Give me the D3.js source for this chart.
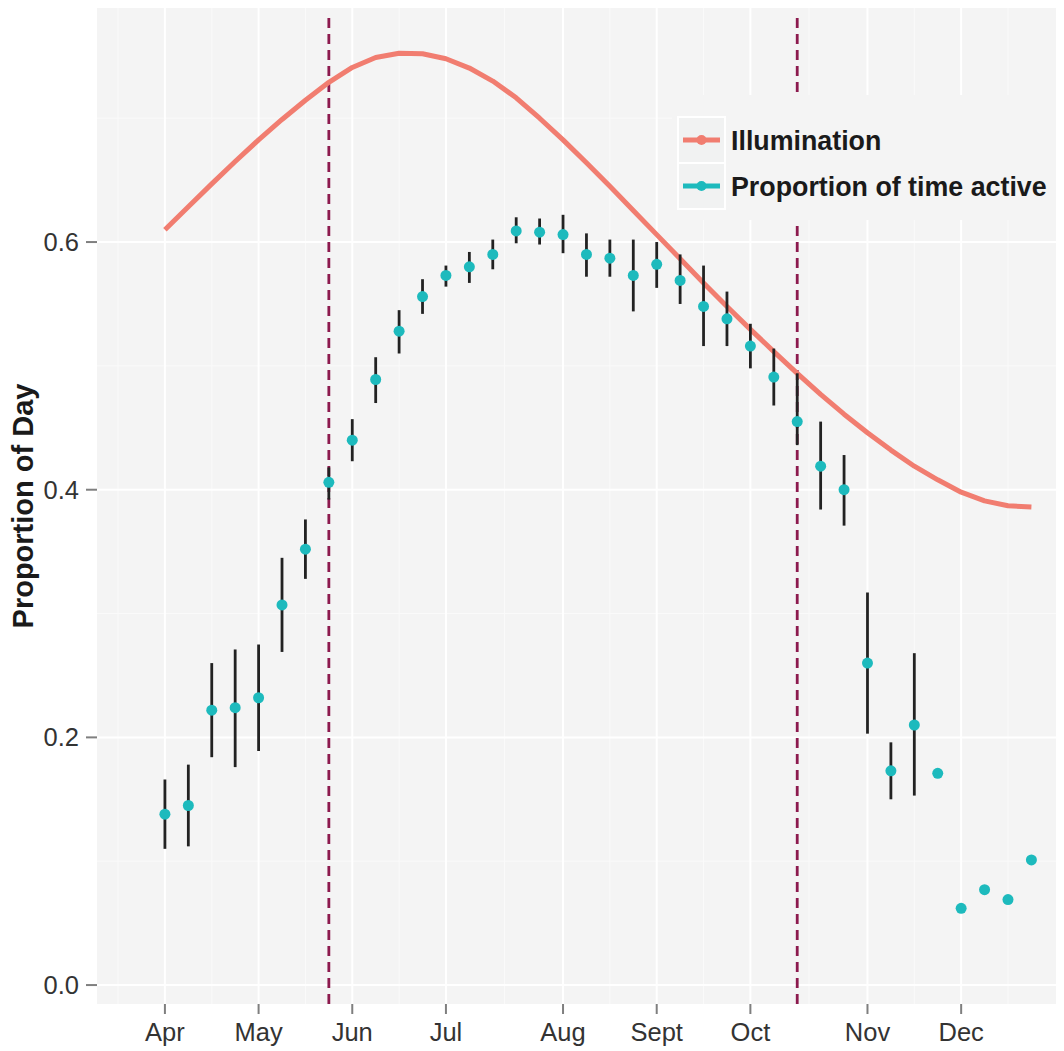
<!DOCTYPE html>
<meta charset="utf-8">
<title>Proportion of Day</title>
<script src="https://d3js.org/d3.v7.min.js"></script>
<style>
  body { margin: 0; background: #fff; }
  text { font-family: "Liberation Sans", Arial, sans-serif; }
  .tick-label { font-size: 25.5px; fill: #333; }
  .legend-label { font-size: 26.8px; font-weight: bold; fill: #1a1a1a; }
  .axis-title { font-size: 29px; font-weight: bold; fill: #1a1a1a; }
</style>
<body>
<svg width="1064" height="1051"></svg>
<script>

// month breaks, placed at week index (week 0 = start of April)
var monthLabels = ["Apr", "May", "Jun", "Jul", "Aug", "Sept", "Oct", "Nov", "Dec"];
var monthWeeks = [0, 4, 8, 12, 17, 21, 25, 30, 34];

// weekly proportion of time active, with error bar limits
var activeMean = [0.138, 0.145, 0.222, 0.224, 0.232, 0.307, 0.352, 0.406, 0.440, 0.489,
  0.528, 0.556, 0.573, 0.580, 0.590, 0.609, 0.608, 0.606, 0.590, 0.587,
  0.573, 0.582, 0.569, 0.548, 0.538, 0.516, 0.491, 0.455, 0.419, 0.400,
  0.260, 0.173, 0.210, 0.171, 0.062, 0.077, 0.069, 0.101];
var activeLow = [0.110, 0.112, 0.184, 0.176, 0.189, 0.269, 0.328, 0.392, 0.423, 0.470,
  0.510, 0.542, 0.564, 0.567, 0.578, 0.599, 0.598, 0.591, 0.572, 0.572,
  0.544, 0.563, 0.550, 0.516, 0.516, 0.498, 0.468, 0.436, 0.384, 0.371,
  0.203, 0.150, 0.153, 0.168, null, null, null, null];
var activeHigh = [0.166, 0.178, 0.260, 0.271, 0.275, 0.345, 0.376, 0.418, 0.457, 0.507,
  0.545, 0.570, 0.581, 0.592, 0.602, 0.620, 0.619, 0.622, 0.607, 0.602,
  0.602, 0.600, 0.590, 0.581, 0.560, 0.534, 0.514, 0.494, 0.455, 0.428,
  0.317, 0.196, 0.268, 0.173, null, null, null, null];

// weekly illumination (proportion of day lit)
var illumination = [0.610, 0.6285, 0.647, 0.665, 0.6825, 0.699, 0.7145, 0.729, 0.741, 0.749,
  0.7525, 0.752, 0.748, 0.7405, 0.730, 0.7165, 0.700, 0.6825, 0.664, 0.645,
  0.6255, 0.606, 0.5865, 0.567, 0.548, 0.5295, 0.5115, 0.494, 0.477, 0.461,
  0.446, 0.432, 0.419, 0.408, 0.398, 0.391, 0.387, 0.386];

// vertical reference weeks
var markerWeeks = [7, 27];

var yTicks = [0, 0.2, 0.4, 0.6];
var yMinor = [0.1, 0.3, 0.5, 0.7];

var svg = d3.select("svg");
var panel = { left: 97, right: 1056, top: 8, bottom: 1004 };

var x = d3.scaleLinear().domain([-2.9, 38.05]).range([panel.left, panel.right]);
var y = d3.scaleLinear().domain([-0.0153, 0.789]).range([panel.bottom, panel.top]);

var colIllum = "#f17d70", colActive = "#1dbabd", colMarker = "#8c1a4e";

// minor x gridlines midway between month breaks
var xMinor = [monthWeeks[0] - (monthWeeks[1] - monthWeeks[0]) / 2];
for (var i = 1; i < monthWeeks.length; i++) xMinor.push((monthWeeks[i - 1] + monthWeeks[i]) / 2);
var nb = monthWeeks.length;
xMinor.push(monthWeeks[nb - 1] + (monthWeeks[nb - 1] - monthWeeks[nb - 2]) / 2);

svg.append("rect")
  .attr("x", panel.left).attr("y", panel.top)
  .attr("width", panel.right - panel.left).attr("height", panel.bottom - panel.top)
  .attr("fill", "#f4f4f4");

var grid = svg.append("g");
grid.selectAll(".ymin").data(yMinor).enter().append("line")
  .attr("x1", panel.left).attr("x2", panel.right)
  .attr("y1", y).attr("y2", y)
  .attr("stroke", "#fafafa").attr("stroke-width", 1);
grid.selectAll(".xmin").data(xMinor).enter().append("line")
  .attr("x1", x).attr("x2", x)
  .attr("y1", panel.top).attr("y2", panel.bottom)
  .attr("stroke", "#fafafa").attr("stroke-width", 1);
grid.selectAll(".ymaj").data(yTicks).enter().append("line")
  .attr("x1", panel.left).attr("x2", panel.right)
  .attr("y1", y).attr("y2", y)
  .attr("stroke", "#fff").attr("stroke-width", 2);
grid.selectAll(".xmaj").data(monthWeeks).enter().append("line")
  .attr("x1", x).attr("x2", x)
  .attr("y1", panel.top).attr("y2", panel.bottom)
  .attr("stroke", "#fff").attr("stroke-width", 2);

// dashed markers
svg.selectAll(".marker").data(markerWeeks).enter().append("line")
  .attr("x1", x).attr("x2", x)
  .attr("y1", panel.bottom).attr("y2", panel.top + 4)
  .attr("stroke", colMarker).attr("stroke-width", 2.8)
  .attr("stroke-dasharray", "10,6");

// illumination line
var line = d3.line()
  .x(function (d, i) { return x(i); })
  .y(function (d) { return y(d); });
svg.append("path")
  .datum(illumination)
  .attr("d", line)
  .attr("fill", "none")
  .attr("stroke", colIllum)
  .attr("stroke-width", 5)
  .attr("stroke-linejoin", "round");

// error bars
var errG = svg.append("g");
activeMean.forEach(function (m, i) {
  if (activeLow[i] === null) return;
  errG.append("line")
    .attr("x1", x(i)).attr("x2", x(i))
    .attr("y1", y(activeLow[i])).attr("y2", y(activeHigh[i]))
    .attr("stroke", "#222").attr("stroke-width", 2.8);
});

svg.append("g").selectAll("circle").data(activeMean).enter().append("circle")
  .attr("cx", function (d, i) { return x(i); })
  .attr("cy", function (d) { return y(d); })
  .attr("r", 5.5)
  .attr("fill", colActive);

// legend
var lg = svg.append("g");
lg.append("rect").attr("x", 672).attr("y", 95).attr("width", panel.right - 672).attr("height", 125)
  .attr("fill", "#f4f4f4");
var legendItems = [{ label: "Illumination", color: colIllum }, { label: "Proportion of time active", color: colActive }];
legendItems.forEach(function (it, k) {
  var top = 117 + k * 46;
  lg.append("rect").attr("x", 678).attr("y", top).attr("width", 47).attr("height", 46)
    .attr("fill", "#f1f2f2").attr("stroke", "#fff").attr("stroke-width", 2);
  lg.append("line").attr("x1", 683).attr("x2", 720).attr("y1", top + 23).attr("y2", top + 23)
    .attr("stroke", it.color).attr("stroke-width", 5);
  lg.append("circle").attr("cx", 701.5).attr("cy", top + 23).attr("r", 5).attr("fill", it.color);
  lg.append("text").attr("class", "legend-label").attr("x", 731).attr("y", top + 33).text(it.label);
});

// axes
var yAxisG = svg.append("g");
yTicks.forEach(function (t) {
  yAxisG.append("line").attr("x1", 86).attr("x2", panel.left).attr("y1", y(t)).attr("y2", y(t))
    .attr("stroke", "#7f7f7f").attr("stroke-width", 2);
  yAxisG.append("text").attr("class", "tick-label").attr("x", 79).attr("y", y(t) + 9)
    .attr("text-anchor", "end").text(d3.format(".1f")(t));
});
var xAxisG = svg.append("g");
monthWeeks.forEach(function (w, k) {
  xAxisG.append("line").attr("x1", x(w)).attr("x2", x(w)).attr("y1", panel.bottom).attr("y2", panel.bottom + 10)
    .attr("stroke", "#7f7f7f").attr("stroke-width", 2);
  xAxisG.append("text").attr("class", "tick-label").attr("x", x(w)).attr("y", 1041)
    .attr("text-anchor", "middle").text(monthLabels[k]);
});

svg.append("text").attr("class", "axis-title")
  .attr("transform", "translate(33," + (panel.top + panel.bottom) / 2 + ") rotate(-90)")
  .attr("text-anchor", "middle")
  .text("Proportion of Day");

</script>
</body>
